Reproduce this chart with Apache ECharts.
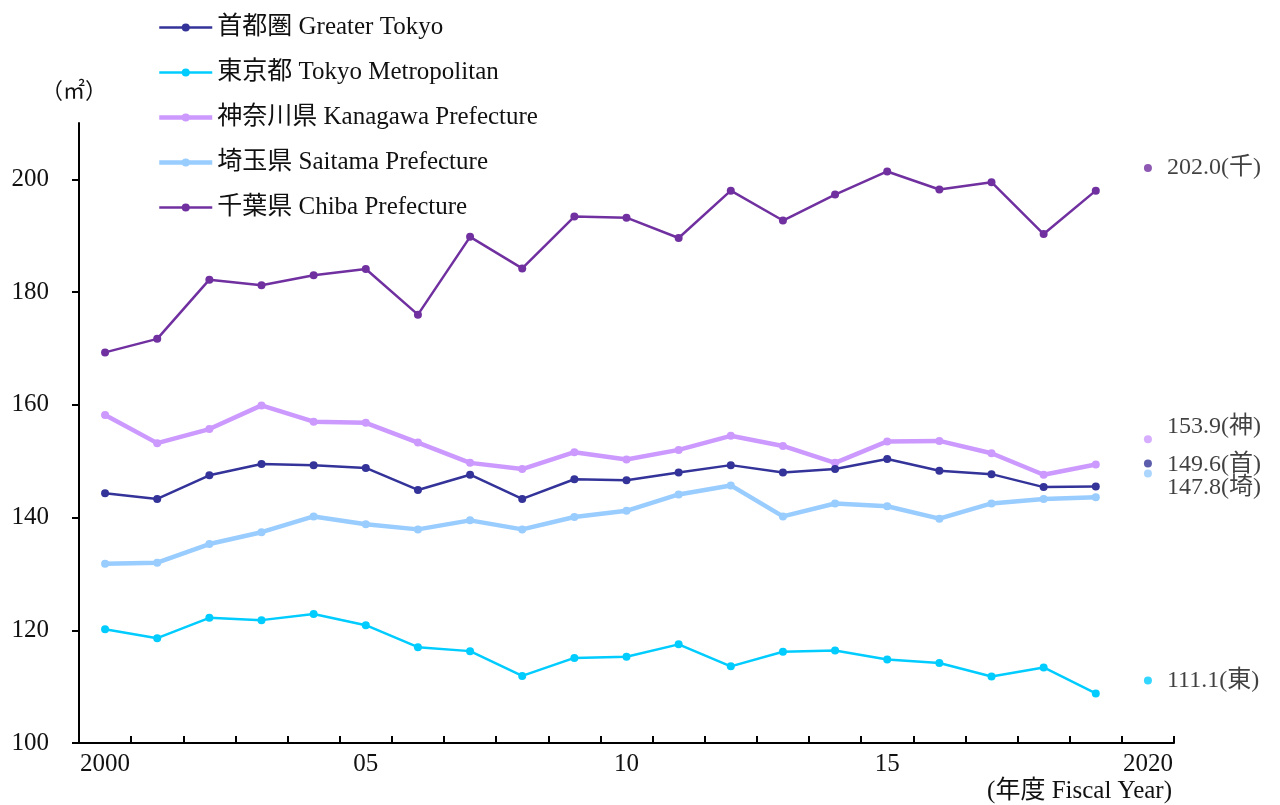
<!DOCTYPE html>
<html>
<head>
<meta charset="utf-8">
<script src="https://cdn.jsdelivr.net/npm/echarts@6/dist/echarts.min.js"></script>
<style>
html, body { margin: 0; padding: 0; background: #fff; }
#main { width: 1280px; height: 805px; }
</style>
</head>
<body>
<div id="main"></div>
<script>
var myChart = echarts.init(document.getElementById('main'));

// 年度
var years = ['2000', '2001', '2002', '2003', '2004', '2005', '2006', '2007', '2008', '2009',
	'2010', '2011', '2012', '2013', '2014', '2015', '2016', '2017', '2018', '2019', '2020'];
var xTickLabels = { '2000': '2000', '2005': '05', '2010': '10', '2015': '15', '2020': '2020' };
var yTickValues = [100, 120, 140, 160, 180, 200];

var seriesNames = ['首都圏 Greater Tokyo', '東京都 Tokyo Metropolitan', '神奈川県 Kanagawa Prefecture',
	'埼玉県 Saitama Prefecture', '千葉県 Chiba Prefecture'];

var greaterTokyo = [144.3, 143.3, 147.5, 149.5, 149.3, 148.8, 144.9, 147.6, 143.3, 146.8,
	146.6, 148.0, 149.3, 148.0, 148.6, 150.4, 148.3, 147.7, 145.4, 145.5];
var tokyoMetro = [120.2, 118.6, 122.2, 121.8, 122.9, 120.9, 117.0, 116.3, 111.9, 115.1,
	115.3, 117.5, 113.6, 116.2, 116.4, 114.8, 114.2, 111.8, 113.4, 108.8];
var kanagawa = [158.2, 153.2, 155.7, 159.9, 157.0, 156.8, 153.3, 149.7, 148.6, 151.6,
	150.3, 152.0, 154.5, 152.7, 149.7, 153.5, 153.6, 151.4, 147.6, 149.4];
var saitama = [131.8, 132.0, 135.3, 137.4, 140.2, 138.8, 137.9, 139.5, 137.9, 140.1,
	141.2, 144.1, 145.7, 140.2, 142.5, 142.0, 139.8, 142.5, 143.3, 143.6];
var chiba = [169.3, 171.7, 182.2, 181.2, 183.0, 184.1, 176.0, 189.8, 184.2, 193.4,
	193.2, 189.6, 198.0, 192.7, 197.3, 201.4, 198.2, 199.5, 190.3, 198.0];

// 2020年度の値 (右側の注記)
var endValues = [149.6, 111.1, 153.9, 147.8, 202.0];
var endTags = ['首', '東', '神', '埼', '千'];

var colors = ['#333399', '#00CCFF', '#CC99FF', '#99CCFF', '#7030A0'];
var lineWidths = [2.5, 2.5, 4.5, 4.5, 2.5];
var endLabelOffsets = [[0, 1], [0, 0], [0, -12], [0, 14], [0, 0]];

var fontFamily = "'Liberation Serif', 'Noto Sans CJK JP', serif";
var fontSize = 25;

var lineData = [greaterTokyo, tokyoMetro, kanagawa, saitama, chiba];
var series = [];
var legendData = [];
for (let i = 0; i < seriesNames.length; i++) {
	series.push({
		name: seriesNames[i],
		type: 'line',
		data: lineData[i],
		symbol: 'circle',
		symbolSize: 8,
		color: colors[i],
		lineStyle: { width: lineWidths[i], color: colors[i] },
		itemStyle: { color: colors[i] },
		z: 5 - i
	});
	legendData.push({
		name: seriesNames[i],
		lineStyle: { width: lineWidths[i], color: colors[i] },
		itemStyle: { color: colors[i] }
	});
}

var endData = [];
for (let i = 0; i < endValues.length; i++) {
	endData.push({
		value: ['2020', endValues[i]],
		itemStyle: { color: colors[i] },
		label: { offset: endLabelOffsets[i] }
	});
}
series.push({
	name: 'end',
	type: 'scatter',
	symbolSize: 8,
	data: endData,
	label: {
		show: true,
		position: 'right',
		distance: 15,
		color: '#111',
		fontFamily: fontFamily,
		fontSize: 24,
		formatter: function (p) {
			return p.value[1].toFixed(1) + '(' + endTags[p.dataIndex] + ')';
		}
	}
});

option = {
	animation: false,
	backgroundColor: '#fff',
	grid: { left: 79, right: 106, top: 123, bottom: 62 },
	legend: {
		orient: 'vertical',
		left: 152,
		top: 10,
		itemWidth: 53,
		itemHeight: 10,
		itemGap: 20,
		data: legendData,
		textStyle: { fontFamily: fontFamily, fontSize: fontSize, color: '#111' }
	},
	xAxis: {
		type: 'category',
		data: years,
		boundaryGap: true,
		axisLine: { lineStyle: { color: '#000', width: 2 } },
		axisTick: { show: true, inside: true, length: 7, interval: 0, lineStyle: { color: '#000', width: 2 } },
		axisLabel: {
			interval: 0,
			margin: 9,
			color: '#111',
			fontFamily: fontFamily,
			fontSize: fontSize,
			formatter: function (v) { return xTickLabels[v] || ''; }
		},
		splitLine: { show: false }
	},
	yAxis: {
		type: 'value',
		min: 100,
		max: 210,
		interval: 20,
		name: '（㎡）',
		nameLocation: 'end',
		nameGap: 20,
		nameTextStyle: { fontFamily: fontFamily, fontSize: 22, color: '#111', align: 'center', padding: [0, 10, 0, 0] },
		axisLine: { show: true, lineStyle: { color: '#000', width: 2 } },
		axisTick: { show: true, length: 7, customValues: yTickValues, lineStyle: { color: '#000', width: 2 } },
		axisLabel: { margin: 30, color: '#111', fontFamily: fontFamily, fontSize: fontSize, customValues: yTickValues },
		splitLine: { show: false }
	},
	graphic: [{
		type: 'text',
		right: 108,
		top: 779,
		style: { text: '(年度 Fiscal Year)', fill: '#111', font: fontSize + 'px ' + fontFamily }
	}],
	series: series
};
myChart.setOption(option);
</script>
</body>
</html>
